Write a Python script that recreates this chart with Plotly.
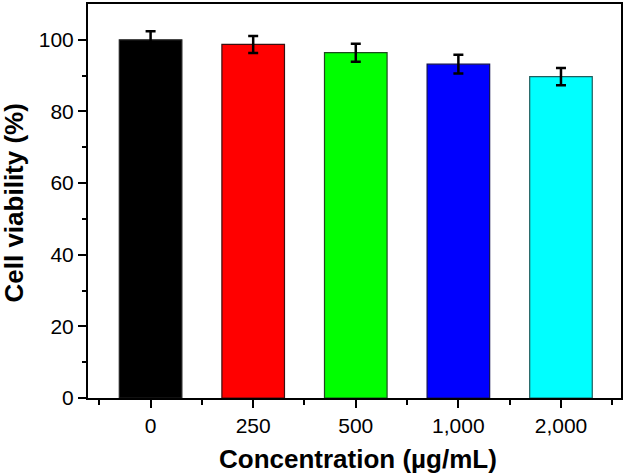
import plotly.graph_objects as go

categories = ["0", "250", "500", "1,000", "2,000"]
viability = [100.0, 98.7, 96.4, 93.2, 89.7]
errors = [2.4, 2.4, 2.5, 2.6, 2.4]
colors = ["#000000", "#ff0000", "#00ff00", "#0000ff", "#00ffff"]
outline = ["#222222", "#3a1010", "#1f4a1f", "#101050", "#1f5f5f"]

x_idx = list(range(len(categories)))

fig = go.Figure()
fig.add_trace(go.Bar(
    x=x_idx, y=viability, width=0.61,
    marker=dict(color=colors, line=dict(color=outline, width=1.2)),
    error_y=dict(type="data", array=errors, visible=True, color="#000000",
                 thickness=2.5, width=5),
    showlegend=False,
))

font_family = "Liberation Sans, Arial, sans-serif"
fig.update_layout(
    width=626, height=476,
    margin=dict(l=88, r=5, t=4, b=78, autoexpand=False),
    plot_bgcolor="white", paper_bgcolor="white",
    font=dict(family=font_family, color="black"),
    xaxis=dict(
        range=[-0.61, 4.585], automargin=False,
        tickmode="array", tickvals=x_idx, ticktext=categories,
        ticks="outside", ticklen=8, tickwidth=2, tickcolor="black",
        minor=dict(tickmode="array", tickvals=[-0.5, 0.5, 1.5, 2.5, 3.5, 4.5],
                   ticks="outside", ticklen=5, tickwidth=2, tickcolor="black"),
        showline=True, linecolor="black", linewidth=2, mirror=True,
        showgrid=False, zeroline=False,
        tickfont=dict(size=21, family=font_family),
    ),
    yaxis=dict(
        range=[0, 110], automargin=False,
        tickmode="array", tickvals=[0, 20, 40, 60, 80, 100],
        ticks="outside", ticklen=8, tickwidth=2, tickcolor="black",
        minor=dict(tickmode="array", tickvals=[10, 30, 50, 70, 90],
                   ticks="outside", ticklen=4, tickwidth=2, tickcolor="black"),
        showline=True, linecolor="black", linewidth=2, mirror=True,
        showgrid=False, zeroline=False,
        tickfont=dict(size=21, family=font_family),
    ),
    annotations=[
        dict(text="<b>Cell viability (%)</b>", xref="paper", yref="paper",
             x=-0.1388, y=0.4937, xanchor="center", yanchor="middle",
             textangle=-90, showarrow=False, font=dict(size=26, family=font_family)),
        dict(text="<b>Concentration (µg/mL)</b>", xref="paper", yref="paper",
             x=0.5066, y=-0.1548, xanchor="center", yanchor="middle",
             showarrow=False, font=dict(size=26, family=font_family)),
    ],
)

fig.write_html("out.html", config={"displayModeBar": False},
               post_script="document.body.style.margin='0';")
